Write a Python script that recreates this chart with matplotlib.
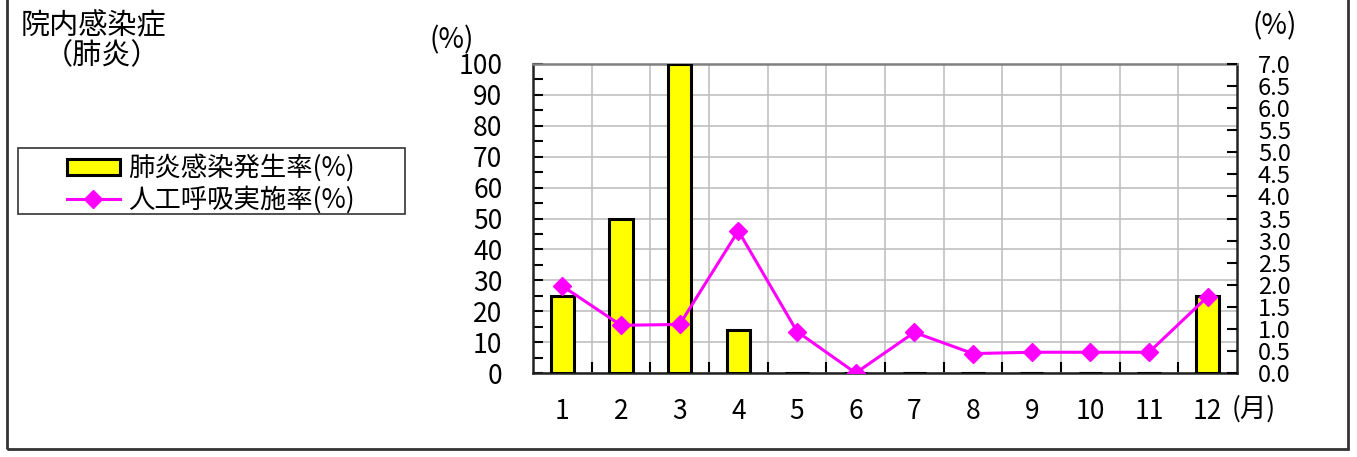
import matplotlib
matplotlib.use('Agg')
import matplotlib.pyplot as plt
from matplotlib.patches import Rectangle
from matplotlib.lines import Line2D

plt.rcParams['font.family'] = ['Noto Sans CJK JP', 'DejaVu Sans']

# データ
months = [1, 2, 3, 4, 5, 6, 7, 8, 9, 10, 11, 12]
month_labels = ['1', '2', '3', '4', '5', '6', '7', '8', '9', '10', '11', '12']
pneumonia_rate = [25, 50, 100, 14, 0, 0, 0, 0, 0, 0, 0, 25]
ventilator_rate = [1.97, 1.08, 1.10, 3.22, 0.94, 0.0, 0.92, 0.44, 0.47, 0.47, 0.47, 1.73]
series_names = ['肺炎感染発生率(%)', '人工呼吸実施率(%)']

left_ticks = list(range(0, 101, 10))
right_ticks = [i * 0.5 for i in range(15)]

W, H = 1357, 457


def fx(px):
    return px / W


def fy(py):
    return 1 - py / H


fig = plt.figure(figsize=(W / 100, H / 100), dpi=100)

# 外枠
fig.patches.append(Rectangle((fx(7), fy(449)), fx(1348 - 7), 449 / H + 0.05,
                             transform=fig.transFigure, fill=False,
                             edgecolor='#333333', linewidth=2))

ax = fig.add_axes([fx(533), fy(373), fx(1237 - 533), (373 - 64) / H])
ax.bar(months, pneumonia_rate, width=0.4, color='#FFFF00', edgecolor='black', linewidth=2.2, zorder=3)
ax.set_xlim(0.5, 12.5)
ax.set_ylim(0, 100)
ax.set_yticks(left_ticks)
ax.set_yticks(range(0, 101, 5), minor=True)
ax.set_xticks(months)
ax.set_xticklabels(month_labels)
ax.set_xticks([m + 0.5 for m in months[:-1]], minor=True)
ax.tick_params(axis='y', which='both', direction='in', length=7, width=1.5, labelsize=19, pad=22)
ax.tick_params(axis='x', which='major', length=0, labelsize=19, pad=18)
ax.tick_params(axis='x', which='minor', direction='in', length=8, width=1.5)
ax.yaxis.grid(True, which='major', color='#c0c0c0', linewidth=1.2, zorder=0)
ax.xaxis.grid(True, which='minor', color='#c0c0c0', linewidth=1.2, zorder=0)
ax.set_axisbelow(True)
for s in ['left', 'bottom', 'right']:
    ax.spines[s].set_color('#222222')
    ax.spines[s].set_linewidth(1.8)
ax.spines['top'].set_color('#808080')
ax.spines['top'].set_linewidth(1.8)

ax2 = ax.twinx()
ax2.plot(months, ventilator_rate, color='#FF00FF', linewidth=2.2, marker='D', markersize=9, zorder=4)
ax2.set_ylim(0, 7)
ax2.set_yticks(right_ticks)
ax2.set_yticklabels([f'{v:.1f}' for v in right_ticks])
ax2.tick_params(axis='y', direction='in', length=7, width=1.5, labelsize=17, pad=15)
for s in ax2.spines.values():
    s.set_visible(False)

# 単位
fig.text(fx(452), fy(40), '(%)', fontsize=20, ha='center', va='center')
fig.text(fx(1275), fy(26), '(%)', fontsize=20, ha='center', va='center')
fig.text(fx(1254), fy(409), '(月)', fontsize=19, ha='center', va='center')

# タイトル
fig.text(fx(21), fy(26), '院内感染症', fontsize=21, ha='left', va='center')
fig.text(fx(44), fy(56), '（肺炎）', fontsize=21, ha='left', va='center')

# 凡例（枠は手描き）
fig.patches.append(Rectangle((fx(18), fy(214)), fx(405 - 18), (214 - 148) / H,
                             transform=fig.transFigure, fill=False,
                             edgecolor='#333333', linewidth=1.2))
handles = [Rectangle((0, 0), 1, 1, facecolor='#FFFF00', edgecolor='black', linewidth=2.2),
           Line2D([0], [0], color='#FF00FF', linewidth=2.2, marker='D', markersize=9)]
leg = fig.legend(handles, series_names,
                 loc='center left', bbox_to_anchor=(fx(67), fy(184)),
                 fontsize=19, frameon=False, borderpad=0, labelspacing=0.15,
                 handlelength=2.0, handletextpad=0.3, borderaxespad=0, handleheight=0.55)

fig.savefig('out.png', dpi=100)
